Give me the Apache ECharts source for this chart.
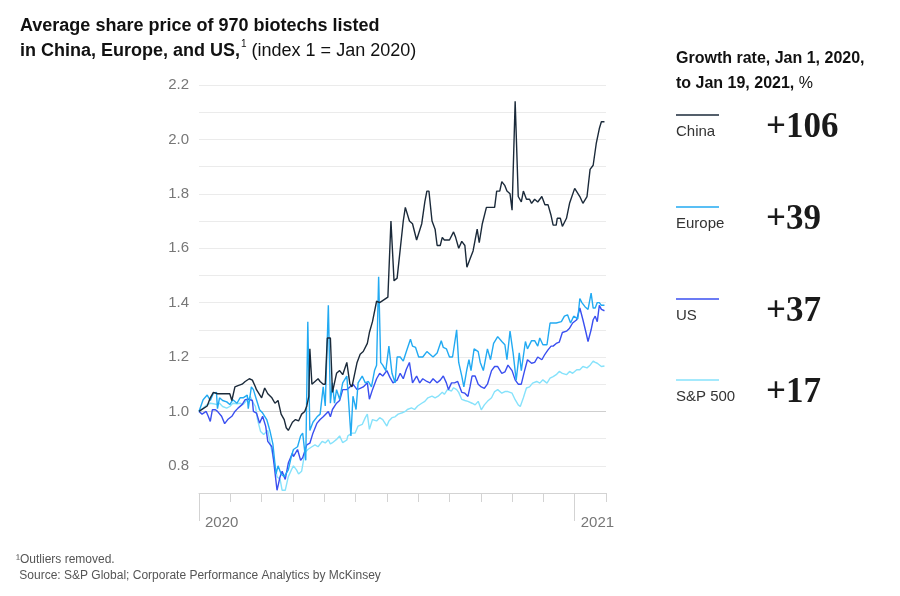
<!DOCTYPE html>
<html>
<head>
<meta charset="utf-8">
<script src="https://cdn.jsdelivr.net/npm/echarts@6/dist/echarts.min.js"></script>
<style>
  html, body { margin: 0; padding: 0; background: #fff; }
  #chart { width: 900px; height: 596px; }
</style>
</head>
<body>
<div id="chart"></div>
<script>
// days since Jan 1, 2020 ; index value (1 = Jan 2020)
const chinaDays = [0,4,8,11,14,18,22,26,30,32,35,38,42,45,49,52,55,56,61,64,67,71,74,77,80,83,85,87,91,94,
  97,100,103,105,107,108,110,113,116,118,121,123,125,128,130,134,137,140,144,147,149,154,157,160,164,166,169,173,176,180,
  184,187,190,193,196,199,201,205,208,212,217,220,222,224,227,230,232,235,237,239,244,248,250,253,256,259,261,264,267,271,
  273,276,280,285,288,290,293,295,298,300,303,305,308,311,314,316,319,322,324,327,330,334,337,340,343,345,348,349,352,354,
  358,361,366,371,374,378,381,384,387,390,392,395];
const chinaValues = [1.00,1.01,1.02,1.05,1.07,1.065,1.065,1.065,1.065,1.04,1.09,1.095,1.10,1.11,1.12,1.115,1.09,1.08,1.05,1.086,
  1.065,1.05,1.03,1.04,0.99,0.97,0.94,0.93,0.96,0.97,0.965,0.99,1.00,1.02,1.055,1.23,1.10,1.11,1.12,1.11,
  1.10,1.10,1.27,1.27,1.07,1.14,1.15,1.135,1.18,1.10,1.09,1.18,1.21,1.22,1.25,1.29,1.33,1.405,1.40,1.41,
  1.42,1.70,1.48,1.49,1.595,1.70,1.75,1.70,1.69,1.63,1.69,1.77,1.81,1.81,1.70,1.67,1.61,1.61,1.64,1.63,
  1.63,1.66,1.64,1.60,1.625,1.61,1.53,1.56,1.59,1.67,1.62,1.69,1.75,1.75,1.75,1.81,1.81,1.845,1.83,1.81,
  1.80,1.74,2.14,1.79,1.77,1.81,1.78,1.78,1.765,1.78,1.77,1.79,1.76,1.76,1.72,1.685,1.685,1.71,1.71,1.68,
  1.71,1.765,1.82,1.79,1.765,1.79,1.89,1.905,1.985,2.04,2.065,2.065];

const europeDays = [0,4,8,11,14,17,18,20,23,27,30,33,37,40,43,47,48,51,53,56,59,62,66,69,72,75,77,80,83,87,
  90,92,96,99,101,104,106,108,111,115,118,121,123,126,128,130,132,134,137,140,144,145,148,150,153,155,159,162,165,168,
  171,173,175,177,179,182,185,188,191,193,196,199,202,206,208,211,214,218,222,225,228,232,236,238,241,244,247,251,253,256,
  258,261,263,265,268,272,274,277,281,284,287,291,295,298,300,303,306,309,311,312,314,318,320,324,327,330,332,335,339,342,
  345,348,353,356,359,362,365,369,371,373,376,379,382,384,386,388,390,392,395];
const europeValues = [1.00,1.043,1.06,1.04,1.067,1.07,1.01,1.05,1.04,1.035,1.025,1.043,1.03,1.05,1.05,1.06,1.01,1.09,1.08,1.043,
  1.006,0.994,0.97,0.93,0.88,0.77,0.80,0.77,0.76,0.785,0.835,0.86,0.87,0.91,0.92,0.82,1.33,0.93,0.96,0.98,
  0.99,1.09,1.02,1.39,1.03,1.105,1.03,1.08,1.045,1.105,1.13,1.08,0.91,1.056,1.007,1.105,1.13,1.105,1.11,1.09,
  1.15,1.17,1.495,1.18,1.17,1.15,1.24,1.14,1.105,1.20,1.20,1.185,1.22,1.265,1.24,1.235,1.20,1.20,1.22,1.21,
  1.20,1.215,1.26,1.235,1.23,1.20,1.20,1.30,1.18,1.13,1.09,1.155,1.19,1.15,1.23,1.22,1.18,1.15,1.23,1.19,
  1.25,1.275,1.257,1.245,1.19,1.295,1.215,1.115,1.18,1.215,1.15,1.257,1.23,1.26,1.26,1.24,1.27,1.245,1.245,1.325,
  1.325,1.325,1.33,1.35,1.355,1.325,1.35,1.34,1.415,1.40,1.385,1.375,1.435,1.38,1.38,1.40,1.40,1.39,1.39];

const usDays = [0,3,7,9,11,13,16,18,22,25,28,32,35,38,42,45,48,52,53,56,59,62,65,67,71,73,76,79,81,84,
  87,91,92,96,99,101,105,108,111,115,118,121,126,128,130,134,137,140,144,147,150,154,157,160,164,166,169,173,176,179,
  183,186,189,193,196,199,202,205,208,212,215,218,222,225,228,232,235,238,241,243,246,249,252,256,259,262,264,266,269,272,
  275,278,281,285,288,291,295,298,301,305,308,311,314,317,320,324,327,330,334,337,340,343,345,348,351,354,358,361,364,368,
  371,374,377,379,382,384,386,388,390,392,395];
const usValues = [1.00,0.99,1.00,0.982,0.963,1.006,1.006,1.00,0.982,0.955,0.97,0.982,1.00,1.012,1.025,1.043,1.045,1.04,1.00,0.994,
  0.957,0.982,0.945,0.89,0.87,0.81,0.71,0.76,0.78,0.75,0.81,0.846,0.834,0.86,0.82,0.83,0.877,0.883,0.92,0.957,
  0.97,0.98,1.00,0.98,1.007,1.03,1.04,1.08,1.08,1.09,1.10,1.08,1.085,1.09,1.105,1.045,1.08,1.12,1.14,1.13,
  1.15,1.125,1.105,1.115,1.14,1.12,1.155,1.18,1.105,1.13,1.105,1.12,1.11,1.105,1.12,1.105,1.115,1.13,1.105,1.08,
  1.105,1.105,1.11,1.07,1.067,1.055,1.09,1.13,1.13,1.10,1.09,1.085,1.10,1.15,1.165,1.165,1.14,1.145,1.17,1.15,
  1.116,1.10,1.10,1.147,1.19,1.177,1.18,1.20,1.19,1.21,1.226,1.24,1.24,1.25,1.255,1.29,1.295,1.306,1.325,1.337,
  1.38,1.337,1.29,1.257,1.30,1.337,1.35,1.33,1.39,1.375,1.37];

const spDays = [0,4,8,11,14,18,20,23,27,30,33,37,40,43,47,50,52,55,57,60,63,67,70,73,76,79,81,84,87,90,
  92,95,97,100,103,106,110,113,116,120,123,126,128,130,134,137,140,144,145,149,152,155,159,162,164,166,169,173,176,179,
  183,185,188,191,194,198,201,203,207,210,213,217,220,223,227,230,233,237,239,242,246,248,251,253,256,259,262,266,269,272,
  275,278,281,285,288,291,295,298,301,305,308,311,313,316,319,322,325,329,332,335,339,342,345,348,351,354,358,361,364,368,
  371,374,378,381,384,386,388,392,395];
const spValues = [1.00,1.012,1.025,1.03,1.028,1.025,1.03,1.018,1.012,1.018,1.03,1.028,1.03,1.025,1.043,1.055,1.037,1.018,0.97,0.926,
  0.915,0.93,0.87,0.82,0.76,0.75,0.71,0.71,0.76,0.785,0.80,0.785,0.77,0.78,0.847,0.86,0.87,0.877,0.87,0.89,
  0.884,0.896,0.88,0.885,0.897,0.91,0.885,0.895,0.91,0.92,0.92,0.946,0.952,0.977,0.99,0.934,0.97,0.965,0.977,0.97,
  0.946,0.965,0.977,0.98,0.99,0.995,1.0,1.007,1.013,1.007,1.02,1.03,1.037,1.05,1.056,1.05,1.056,1.07,1.063,1.08,
  1.075,1.087,1.08,1.07,1.044,1.04,1.037,1.03,1.024,1.037,1.006,1.024,1.037,1.05,1.073,1.08,1.067,1.073,1.073,1.067,
  1.043,1.024,1.018,1.05,1.086,1.09,1.104,1.11,1.104,1.116,1.104,1.122,1.128,1.135,1.147,1.14,1.135,1.147,1.14,1.153,
  1.153,1.165,1.16,1.17,1.185,1.18,1.177,1.165,1.167];

const seriesNames = ['China', 'Europe', 'US', 'S&P 500'];
const growthRates = ['+106', '+39', '+37', '+17'];
const yearDays = [0, 366];
const yearLabels = ['2020', '2021'];

const colors = ['#1b2a3a', '#22aaf2', '#3a4ff0', '#86e2fb'];
const SANS = 'Liberation Sans, Arial, sans-serif';

const pairs = (days, vals) => days.map((d, i) => [d, vals[i]]);
const seriesData = [
  pairs(chinaDays, chinaValues),
  pairs(europeDays, europeValues),
  pairs(usDays, usValues),
  pairs(spDays, spValues),
];

const chart = echarts.init(document.getElementById('chart'));

// legend block on the right
const legendTops = [115, 207, 299, 380];
const legendGraphics = [];
seriesNames.forEach((name, i) => {
  const y = legendTops[i];
  legendGraphics.push({
    type: 'line', shape: { x1: 676, y1: y, x2: 719, y2: y },
    style: { stroke: colors[i], lineWidth: 1.5 }
  });
  legendGraphics.push({
    type: 'text', left: 676, top: y + 9,
    style: { text: name, fill: '#333', font: '15px ' + SANS }
  });
  legendGraphics.push({
    type: 'text', left: 766, top: y - 5,
    style: { text: growthRates[i], fill: '#1a1a1a', font: 'bold 35px "Liberation Serif", serif' }
  });
});

const option = {
  animation: false,
  title: [
    {
      left: 20, top: 14, padding: 0,
      text: '{b|Average share price of 970 biotechs listed}\n{b|in China, Europe, and US,}{sup|1}{r| (index 1 = Jan 2020)}',
      textStyle: {
        rich: {
          b: { fontFamily: SANS, fontWeight: 'bold', fontSize: 18, color: '#111', lineHeight: 25 },
          sup: { fontFamily: SANS, fontWeight: 'normal', fontSize: 10, color: '#111', verticalAlign: 'top', lineHeight: 25, padding: [0, 0, 8, 1] },
          r: { fontFamily: SANS, fontWeight: 'normal', fontSize: 18, color: '#111', lineHeight: 25 }
        }
      }
    },
    {
      left: 676, top: 46, padding: 0,
      text: '{b|Growth rate, Jan 1, 2020,}\n{b|to Jan 19, 2021,}{r| %}',
      textStyle: {
        rich: {
          b: { fontFamily: SANS, fontWeight: 'bold', fontSize: 16, color: '#111', lineHeight: 25 },
          r: { fontFamily: SANS, fontWeight: 'normal', fontSize: 16, color: '#111', lineHeight: 25 }
        }
      }
    },
    {
      left: 16, top: 552, padding: 0,
      text: '¹Outliers removed.\n Source: S&P Global; Corporate Performance Analytics by McKinsey',
      textStyle: { fontFamily: SANS, fontWeight: 'normal', fontSize: 12, color: '#555', lineHeight: 16 }
    }
  ],
  grid: { left: 199, right: 294, top: 85, bottom: 103 },
  xAxis: [
    {
      type: 'value', min: 0, max: 396.5, interval: 30.5,
      axisLine: { lineStyle: { color: '#d3d3d3' } },
      axisTick: { length: 9, lineStyle: { color: '#d3d3d3' } },
      axisLabel: { show: false },
      splitLine: { show: false }
    },
    {
      type: 'value', min: 0, max: 396.5, position: 'bottom',
      axisLine: { show: false },
      axisTick: { length: 28, customValues: yearDays, lineStyle: { color: '#d3d3d3' } },
      axisLabel: {
        customValues: yearDays,
        formatter: v => yearLabels[yearDays.indexOf(v)],
        align: 'left', margin: 22, padding: [0, 0, 0, 6],
        fontFamily: SANS, fontSize: 15, color: '#777'
      },
      splitLine: { show: false }
    }
  ],
  yAxis: {
    type: 'value', min: 0.7, max: 2.2, interval: 0.1,
    axisLine: { show: false },
    axisTick: { show: false },
    axisLabel: {
      margin: 10, fontFamily: SANS, fontSize: 15, color: '#777',
      formatter: v => {
        const t = Math.round(v * 10);
        return t % 2 === 0 ? (t / 10).toFixed(1) : '';
      }
    },
    splitLine: { lineStyle: { color: '#ebebeb', width: 1 } }
  },
  series: seriesNames.map((name, i) => ({
    name: name,
    type: 'line',
    data: seriesData[i],
    showSymbol: false,
    symbol: 'none',
    lineStyle: { color: colors[i], width: 1.4 },
    z: 10 - i,
    markLine: i === 0 ? {
      silent: true, symbol: 'none', label: { show: false },
      lineStyle: { color: '#cfcfcf', type: 'solid', width: 1 },
      data: [{ yAxis: 1 }]
    } : undefined
  })).reverse(),
  graphic: legendGraphics
};

chart.setOption(option);
</script>
</body>
</html>
